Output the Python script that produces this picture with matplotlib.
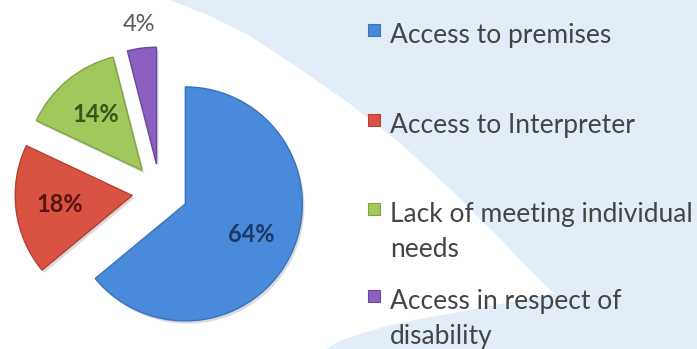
import numpy as np
import matplotlib
matplotlib.use("Agg")
import matplotlib.pyplot as plt
from matplotlib.patches import Polygon, Rectangle
import matplotlib.patheffects as pe

# Complaint categories and their shares (%)
categories = ["Access to premises", "Access to Interpreter",
              "Lack of meeting individual needs", "Access in respect of disability"]
legend_lines = [["Access to premises"], ["Access to Interpreter"],
                ["Lack of meeting individual", "needs"],
                ["Access in respect of", "disability"]]
shares = [64, 18, 14, 4]

colors = ["#4A8ADA", "#DA5242", "#A2C75C", "#8C60C0"]
edge_colors = ["#3A72BC", "#B83D30", "#7FA43F", "#6A469C"]
label_colors = ["#1C3A68", "#561510", "#36561A", "#5A5A5A"]

W, H = 697, 349
fig = plt.figure(figsize=(W / 100, H / 100), dpi=100)
fig.patch.set_facecolor("#E3EDF8")
ax = fig.add_axes([0, 0, 1, 1])
ax.set_facecolor("none")

# white swoosh behind the pie (image-style coordinates, y measured downwards)
swoosh = [(0, 0), (170, 0), (210, 16), (250, 36), (300, 69), (350, 104),
          (400, 143), (450, 189), (500, 239), (530, 270), (548, 288),
          (554, 293), (540, 296), (510, 302), (460, 312), (420, 319),
          (390, 325), (360, 334), (340, 341), (326, 349), (0, 349)]
ax.add_patch(Polygon([(x, H - y) for x, y in swoosh], closed=True,
                     facecolor="white", edgecolor="none", zorder=0))

R = 117
CX, CY = 160, H - 192
EXP = 28

wedges, texts, autotexts = ax.pie(
    shares, colors=colors, startangle=90, counterclock=False,
    radius=R, center=(CX, CY), explode=[EXP] * len(shares),
    autopct="%.0f%%", pctdistance=0.62,
    wedgeprops=dict(linewidth=1.0),
    textprops=dict(family="Lato", fontsize=17, fontweight="bold"))

for w, ec in zip(wedges, edge_colors):
    w.set_edgecolor(ec)
    w.set_zorder(2)
    w.set_path_effects([pe.SimplePatchShadow(offset=(1.5, -2), shadow_rgbFace="#8a8a8a", alpha=0.3),
                        pe.Normal()])

for t, c in zip(autotexts, label_colors):
    t.set_color(c)
    t.set_zorder(3)

# the smallest share is labelled just outside its slice
small = int(np.argmin(shares))
w = wedges[small]
tm = np.deg2rad(0.5 * (w.theta1 + w.theta2))
autotexts[small].set_position((w.center[0] + 1.2 * R * np.cos(tm),
                               w.center[1] + 1.2 * R * np.sin(tm)))
autotexts[small].set_fontweight("normal")

ax.set_xlim(0, W)
ax.set_ylim(0, H)
ax.set_aspect("equal")
ax.axis("off")

# legend
baselines = [43, 133, 222, 309]
line_gap = 35
tx, mx, ms = 390, 368, 12
legend_texts = []
for lines, col, ec, b in zip(legend_lines, colors, edge_colors, baselines):
    ax.add_patch(Rectangle((mx, H - (b - 13) - ms / 2), ms, ms, facecolor=col,
                           edgecolor=ec, linewidth=0.8, zorder=3,
                           path_effects=[pe.SimplePatchShadow(offset=(1, -1), alpha=0.3), pe.Normal()]))
    for k, line in enumerate(lines):
        legend_texts.append(ax.text(tx, H - (b + k * line_gap), line, family="Lato",
                                    fontsize=20, color="#454545", va="baseline",
                                    ha="left", zorder=3))

# size the legend font so the longest line spans the space up to the right edge
renderer = fig.canvas.get_renderer()
widest = max(t.get_window_extent(renderer).width for t in legend_texts)
new_size = 20 * 303 / widest
for t in legend_texts:
    t.set_fontsize(new_size)

fig.savefig("out.png", dpi=100, facecolor=fig.get_facecolor())
